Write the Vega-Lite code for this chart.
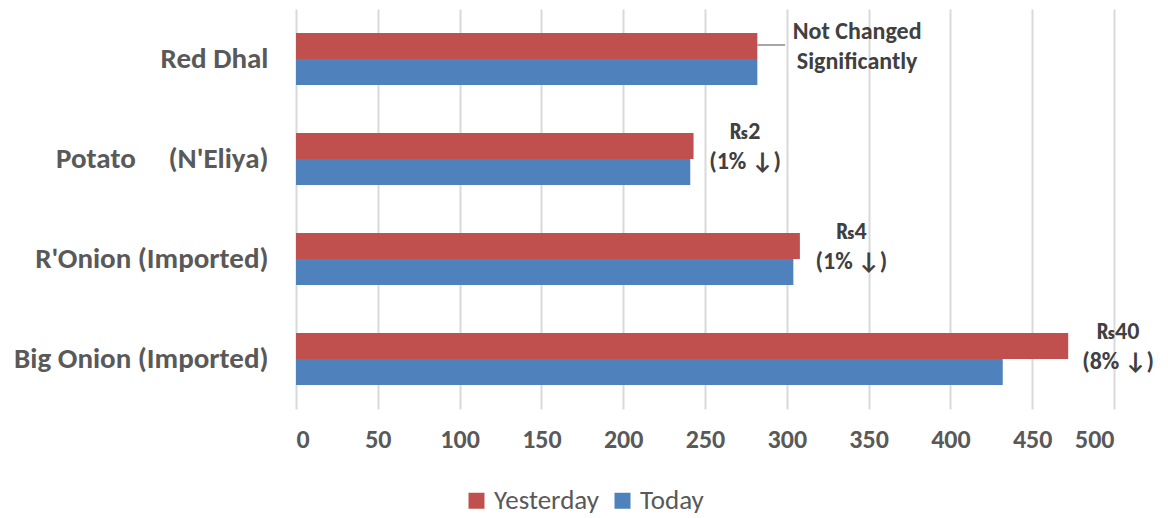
{
  "$schema": "https://vega.github.io/schema/vega-lite/v6.json",
  "width": 818,
  "height": 400,
  "autosize": "none",
  "padding": {"left": 296, "top": 9, "right": 54, "bottom": 109},
  "background": "white",
  "datasets": {
    "prices": [
      {"item": "Red Dhal", "series": "Yesterday", "price": 282},
      {"item": "Red Dhal", "series": "Today", "price": 282},
      {"item": "Potato\u00a0\u00a0\u00a0\u00a0\u00a0(N'Eliya)", "series": "Yesterday", "price": 243},
      {"item": "Potato\u00a0\u00a0\u00a0\u00a0\u00a0(N'Eliya)", "series": "Today", "price": 241},
      {"item": "R'Onion (Imported)", "series": "Yesterday", "price": 308},
      {"item": "R'Onion (Imported)", "series": "Today", "price": 304},
      {"item": "Big Onion (Imported)", "series": "Yesterday", "price": 472},
      {"item": "Big Onion (Imported)", "series": "Today", "price": 432}
    ],
    "notes": [
      {"item": "Red Dhal", "pos": 343, "label": ["Not Changed", "Significantly"]},
      {"item": "Potato\u00a0\u00a0\u00a0\u00a0\u00a0(N'Eliya)", "pos": 274.5, "label": ["\u20a82", "(1% \u2193)"]},
      {"item": "R'Onion (Imported)", "pos": 339.5, "label": ["\u20a84", "(1% \u2193)"]},
      {"item": "Big Onion (Imported)", "pos": 502.5, "label": ["\u20a840", "(8% \u2193)"]}
    ],
    "leaders": [
      {"item": "Red Dhal", "from": 282, "to": 299}
    ]
  },
  "layer": [
    {
      "data": {"name": "prices"},
      "mark": {"type": "bar"},
      "encoding": {
        "y": {
          "field": "item",
          "type": "nominal",
          "scale": {
            "domain": ["Red Dhal", "Potato\u00a0\u00a0\u00a0\u00a0\u00a0(N'Eliya)", "R'Onion (Imported)", "Big Onion (Imported)"],
            "paddingInner": 0.48,
            "paddingOuter": 0.24
          },
          "title": null,
          "axis": {
            "domain": false,
            "ticks": false,
            "grid": false,
            "labelFontSize": 29,
            "labelFontWeight": "bold",
            "labelColor": "#595959",
            "labelPadding": 28,
            "labelLimit": 400
          }
        },
        "yOffset": {"field": "series", "sort": ["Yesterday", "Today"]},
        "x": {
          "field": "price",
          "type": "quantitative",
          "scale": {"domain": [0, 500]},
          "title": null,
          "axis": {
            "values": [0, 50, 100, 150, 200, 250, 300, 350, 400, 450, 500],
            "domain": false,
            "ticks": false,
            "grid": true,
            "gridColor": "#D9D9D9",
            "gridWidth": 2,
            "labelFontSize": 26,
            "labelFontWeight": "bold",
            "labelColor": "#595959",
            "labelPadding": 17
          }
        },
        "color": {
          "field": "series",
          "type": "nominal",
          "scale": {"domain": ["Yesterday", "Today"], "range": ["#C0504D", "#4F81BD"]},
          "legend": {
            "title": null,
            "orient": "none",
            "direction": "horizontal",
            "legendX": 167,
            "legendY": 478,
            "symbolType": "square",
            "symbolSize": 256,
            "symbolStrokeWidth": 0,
            "symbolOpacity": 1,
            "labelFontSize": 27,
            "labelColor": "#595959",
            "labelOffset": 4,
            "columnPadding": 10
          }
        }
      }
    },
    {
      "data": {"name": "leaders"},
      "mark": {"type": "rule", "color": "#A6A6A6", "strokeWidth": 2, "yOffset": -14},
      "encoding": {
        "y": {"field": "item", "type": "nominal"},
        "x": {"field": "from", "type": "quantitative"},
        "x2": {"field": "to"}
      }
    },
    {
      "data": {"name": "notes"},
      "mark": {
        "type": "text",
        "align": "center",
        "baseline": "middle",
        "fontSize": 24,
        "fontWeight": "bold",
        "color": "#404040",
        "lineHeight": 30,
        "dy": -27
      },
      "encoding": {
        "y": {"field": "item", "type": "nominal"},
        "x": {"field": "pos", "type": "quantitative"},
        "text": {"field": "label"}
      }
    }
  ],
  "config": {
    "font": "Carlito, 'Liberation Sans Narrow', 'Open Sans', sans-serif",
    "view": {"stroke": null}
  }
}
